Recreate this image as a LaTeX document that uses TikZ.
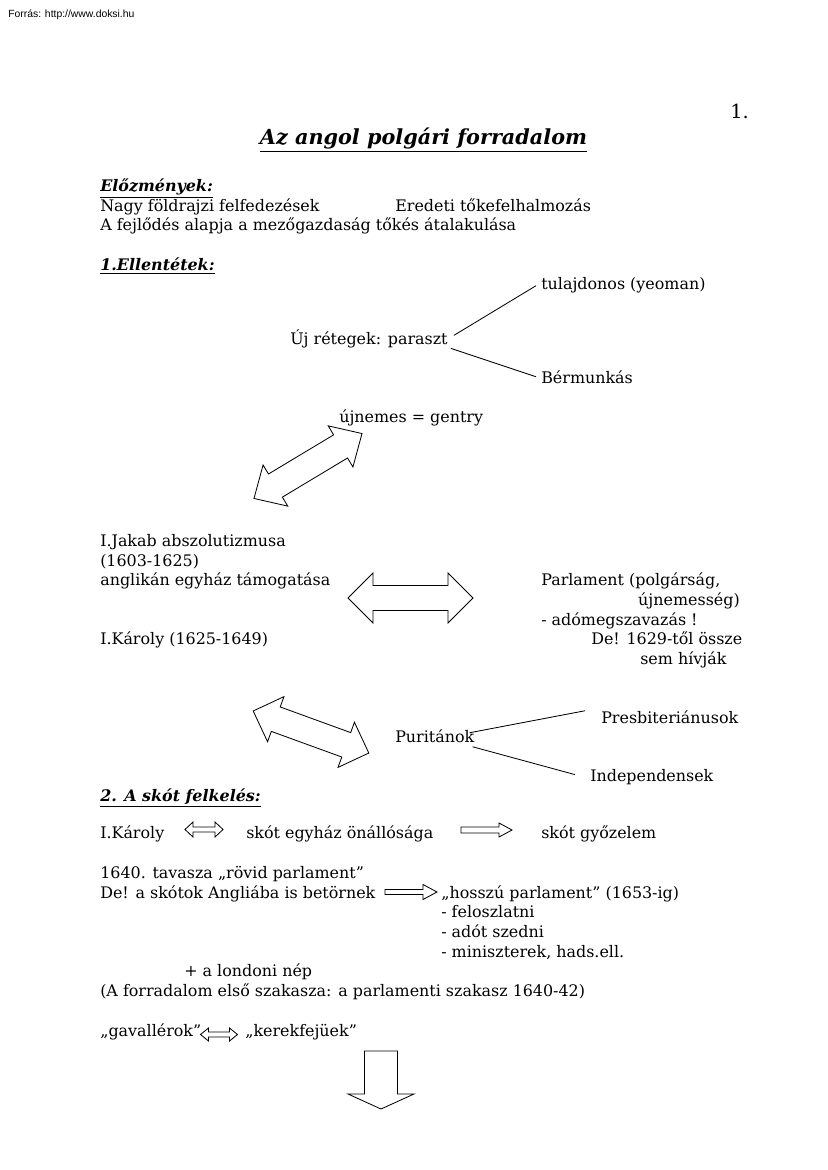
\documentclass[tikz,border=0pt]{standalone}
\usepackage{fontspec}
\setmainfont{DejaVu Serif}
\newfontfamily\forrasfont{Liberation Sans}
\usetikzlibrary{positioning,calc}
\newcommand{\alap}{\fontsize{11.5}{14}\selectfont}
\newcommand{\dblarrow}[7]{%
    \begin{scope}[shift={#1}, rotate=#2]
    \draw[blockarrow] (-#3,0) -- ({-#3+#4},-#6) -- ({-#3+#4},-#5) -- ({#3-#4},-#5) -- ({#3-#4},-#6) -- (#3,0)
        -- ({#3-#4},#6) -- ({#3-#4},#5) -- ({-#3+#4},#5) -- ({-#3+#4},#6) -- cycle;
    \coordinate (#7) at (0,0);
    \end{scope}}
\newcommand{\sglarrow}[7]{%
    \begin{scope}[shift={#1}, rotate=#2]
    \draw[blockarrow] (-#3,-#5) -- ({#3-#4},-#5) -- ({#3-#4},-#6) -- (#3,0) -- ({#3-#4},#6) -- ({#3-#4},#5)
        -- (-#3,#5) -- cycle;
    \coordinate (#7) at (0,0);
    \end{scope}}
\tikzset{
    txt/.style={anchor=base west, inner sep=0pt, font=\alap},
    fejlec/.style={txt, font=\alap\bfseries\itshape},
    blockarrow/.style={draw, line width=0.6pt, line join=miter, fill=white},
    vonal/.style={draw, line width=0.6pt}
}
\begin{document}
\begin{tikzpicture}[x=0.254mm, y=-0.254mm]
    \useasboundingbox (0,0) rectangle (827,1170);
    \node (forras) [txt, font=\forrasfont\fontsize{7.5}{9}\selectfont] at (8,18) {Forrás: http://www.doksi.hu};
    \node (oldal) [txt, font=\fontsize{14}{16}\selectfont] at (730,119) {1.};
    \node (cim) [anchor=base, inner sep=0pt, font=\fontsize{15}{18}\selectfont\bfseries\itshape] at (423.5,145) {\underline{Az angol polgári forradalom}};
    \node (elozmenyek) [fejlec] at (100,192) {\underline{Előzmények:}};
    \node (felfedezesek) [txt] at (100,212) {Nagy földrajzi felfedezések};
    \node (tokefelh) [txt] at (395,212) {Eredeti tőkefelhalmozás};
    \node (fejlodes) [txt] at (100,231) {A fejlődés alapja a mezőgazdaság tőkés átalakulása};
    \node (ellentetek) [fejlec] at (100,271) {\underline{1.Ellentétek:}};
    \node (yeoman) [txt] at (541,290) {tulajdonos (yeoman)};
    \node (paraszt) [txt] at (290,345) {Új rétegek: paraszt};
    \node (berm) [txt] at (541,383) {Bérmunkás};
    \draw [vonal] ([shift={(6,-4)}]paraszt.east) -- ([shift={(-5,0)}]yeoman.west);
    \draw [vonal] ([shift={(3,9)}]paraszt.east) -- ([shift={(-5,0)}]berm.west);
    \node (gentry) [txt] at (339,422) {újnemes = gentry};
    \dblarrow{(308,466)}{31}{63}{25}{13.5}{24}{nyil1}
    \node (jakab) [txt] at (100,546) {I.Jakab abszolutizmusa};
    \node (jakabev) [txt] at (100,566) {(1603-1625)};
    \node (anglikan) [txt] at (100,585) {anglikán egyház támogatása};
    \node (parlament) [txt] at (541,585) {Parlament (polgárság,};
    \node (ujnemesseg) [txt, anchor=base east] at (740,605) {újnemesség)};
    \node (adomeg) [txt] at (541,625) {- adómegszavazás !};
    \node (karoly) [txt] at (100,644) {I.Károly (1625-1649)};
    \node (de1629) [txt] at (591,644) {De! 1629-től össze};
    \node (semhivjak) [txt] at (640,664) {sem hívják};
    \dblarrow{(410.5,598)}{0}{62.5}{25}{12.5}{25}{nyil2}
    \dblarrow{(311,732)}{-20}{61.5}{24}{13}{24}{nyil3}
    \node (presbi) [txt] at (601,723) {Presbiteriánusok};
    \node (puritan) [txt] at (395,742) {Puritánok};
    \node (indep) [txt] at (590,781) {Independensek};
    \draw [vonal] ([shift={(-5,-3)}]puritan.east) -- ([shift={(-16,-6)}]presbi.west);
    \draw [vonal] ([shift={(-2,11)}]puritan.east) -- ([shift={(-15,-2)}]indep.west);
    \node (skot) [fejlec] at (100,801) {\underline{2. A skót felkelés:}};
    \node (karoly2) [txt] at (100,838) {I.Károly};
    \dblarrow{(204,829.5)}{0}{19}{8}{2.5}{7.5}{nyil4}
    \node (egyhaz) [txt] at (246,838) {skót egyház önállósága};
    \sglarrow{(486.5,830)}{0}{25.5}{13}{3}{7}{nyil5}
    \node (gyozelem) [txt] at (541,838) {skót győzelem};
    \node (rovid) [txt] at (100,878) {1640. tavasza „rövid parlament”};
    \node (betornek) [txt] at (100,898) {De! a skótok Angliába is betörnek};
    \sglarrow{(411,892)}{0}{26}{14}{2.5}{7.5}{nyil6}
    \node (hosszu) [txt] at (441,898) {„hosszú parlament” (1653-ig)};
    \node (feloszl) [txt] at (441,917) {- feloszlatni};
    \node (ado) [txt] at (441,937) {- adót szedni};
    \node (minisz) [txt] at (441,957) {- miniszterek, hads.ell.};
    \node (londoni) [txt] at (184,976) {+ a londoni nép};
    \node (szakasz) [txt] at (100,996) {(A forradalom első szakasza: a parlamenti szakasz 1640-42)};
    \node (gavall) [txt] at (100,1036) {„gavallérok”};
    \dblarrow{(219,1034.5)}{0}{18.5}{8}{2.5}{6.5}{nyil7}
    \node (kerek) [txt] at (245,1036) {„kerekfejüek”};
    \sglarrow{(381,1080)}{-90}{29}{15}{16.5}{33}{nyil8}
\end{tikzpicture}
\end{document}
